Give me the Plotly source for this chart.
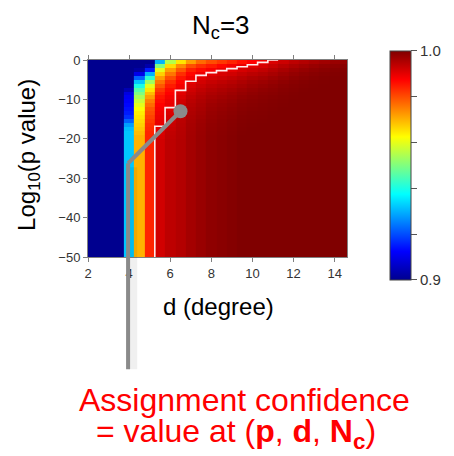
import numpy as np
import plotly.graph_objects as go

# ---------------- data ----------------
d_values = [2.0, 2.5, 3.0, 3.5, 4.0, 4.5, 5.0, 5.5, 6.0, 6.5, 7.0, 7.5, 8.0,
            8.5, 9.0, 9.5, 10.0, 10.5, 11.0, 11.5, 12.0, 12.5, 13.0, 13.5, 14.0, 14.5]
# row boundaries of log10(p)
p_edges = [0, -1, -2, -3, -4, -5, -6, -7, -8, -9, -10, -11, -12, -13, -14, -15,
           -16, -17, -18, -19, -20, -50]

# assignment confidence, one list per d column (rows top -> bottom)
conf_d2_0 = [0.9] * 21
conf_d2_5 = [0.9] * 21
conf_d3_0 = [0.9] * 21
conf_d3_5 = [0.9] * 21
conf_d4_0 = [0.9, 0.9, 0.9, 0.9, 0.9, 0.9, 0.9, 0.904, 0.909, 0.911, 0.912, 0.913, 0.914,
             0.915, 0.917, 0.922, 0.928, 0.931, 0.932, 0.932, 0.932]
conf_d4_5 = [0.9, 0.9, 0.902, 0.91, 0.922, 0.932, 0.94, 0.946, 0.95, 0.954, 0.957, 0.96,
             0.962, 0.964, 0.965, 0.966, 0.967, 0.968, 0.969, 0.97, 0.97]
conf_d5_0 = [0.9, 0.903, 0.915, 0.93, 0.942, 0.953, 0.96, 0.965, 0.969, 0.972, 0.975, 0.977,
             0.979, 0.98, 0.981, 0.982, 0.983, 0.9835, 0.984, 0.984, 0.984]
conf_d5_5 = [0.93, 0.95, 0.96, 0.967, 0.972, 0.976, 0.979, 0.982, 0.984, 0.9855, 0.9865,
             0.9875, 0.9882, 0.9888, 0.9893, 0.9897, 0.9899, 0.9903, 0.991, 0.9915, 0.992]
conf_d6_0 = [0.955, 0.966, 0.972, 0.976, 0.98, 0.983, 0.985, 0.9865, 0.9875, 0.9885, 0.9892,
             0.9897, 0.9902, 0.991, 0.9917, 0.9923, 0.9928, 0.9932, 0.9936, 0.9938, 0.994]
conf_d6_5 = [0.965, 0.974, 0.979, 0.983, 0.9855, 0.9872, 0.9885, 0.9895, 0.9903, 0.9912,
             0.992, 0.9927, 0.9932, 0.9937, 0.994, 0.9943, 0.9945, 0.9947, 0.9948, 0.9949, 0.995]
conf_d7_0 = [0.972, 0.98, 0.9845, 0.987, 0.9885, 0.99, 0.9912, 0.9922, 0.993, 0.9937, 0.9943,
             0.9948, 0.9952, 0.9955, 0.9958, 0.996, 0.9962, 0.9963, 0.9964, 0.9965, 0.9965]
conf_d7_5 = [0.977, 0.983, 0.9865, 0.989, 0.9905, 0.9918, 0.9928, 0.9937, 0.9944, 0.995,
             0.9955, 0.9959, 0.9962, 0.9965, 0.9968, 0.997, 0.9972, 0.9973, 0.9974, 0.9975, 0.9975]
conf_d8_0 = [0.98, 0.985, 0.9882, 0.9903, 0.9918, 0.993, 0.994, 0.9948, 0.9955, 0.9961,
             0.9966, 0.997, 0.9973, 0.9976, 0.9978, 0.998, 0.9982, 0.9983, 0.9984, 0.9985, 0.9985]
conf_d8_5 = [0.982, 0.987, 0.9897, 0.9912, 0.9926, 0.9938, 0.9948, 0.9956, 0.9962, 0.9968,
             0.9972, 0.9976, 0.9979, 0.9982, 0.9984, 0.9986, 0.9987, 0.9988, 0.9989, 0.999, 0.999]
conf_d9_0 = [0.984, 0.9885, 0.9903, 0.992, 0.9935, 0.9946, 0.9955, 0.9963, 0.9969, 0.9974,
             0.9978, 0.9982, 0.9985, 0.9987, 0.9989, 0.9991, 0.9992, 0.9993, 0.9994, 0.9995, 0.9995]
conf_d9_5 = [0.986, 0.9895, 0.9915, 0.9932, 0.9945, 0.9956, 0.9964, 0.9971, 0.9977, 0.9982,
             0.9986, 0.9989, 0.9991, 0.9993, 0.9995, 0.9996, 0.9997, 0.9998, 0.9999, 1.0, 1.0]
conf_d10_0 = [0.9875, 0.9905, 0.9925, 0.9942, 0.9955, 0.9965, 0.9972, 0.9978, 0.9983, 0.9987,
              0.999, 0.9992, 0.9994, 0.9996, 0.9997, 0.9998, 0.9999, 1.0, 1.0, 1.0, 1.0]
conf_d10_5 = [0.989, 0.9915, 0.9935, 0.995, 0.9962, 0.9971, 0.9978, 0.9984, 0.9988, 0.9991,
              0.9993, 0.9995, 0.9996, 0.9997, 0.9998, 0.9999, 1.0, 1.0, 1.0, 1.0, 1.0]
conf_d11_0 = [0.991, 0.993, 0.9948, 0.996, 0.997, 0.9978, 0.9984, 0.9988, 0.9991, 0.9994,
              0.9996, 0.9997, 0.9998, 0.9999, 1.0, 1.0, 1.0, 1.0, 1.0, 1.0, 1.0]
conf_d11_5 = [0.9925, 0.9945, 0.996, 0.997, 0.9978, 0.9985, 0.999, 0.9993, 0.9995, 0.9997,
              0.9998, 0.9999] + [1.0] * 9
conf_d12_0 = [0.994, 0.9957, 0.997, 0.9979, 0.9986, 0.9991, 0.9994, 0.9996, 0.9998, 0.9999] + [1.0] * 11
conf_d12_5 = [0.995, 0.9967, 0.9978, 0.9986, 0.9991, 0.9995, 0.9997, 0.9999] + [1.0] * 13
conf_d13_0 = [0.996, 0.9975, 0.9985, 0.9991, 0.9995, 0.9998, 0.9999] + [1.0] * 14
conf_d13_5 = [0.9968, 0.9982, 0.999, 0.9995, 0.9998, 0.9999] + [1.0] * 15
conf_d14_0 = [0.9975, 0.9987, 0.9994, 0.9997, 0.9999] + [1.0] * 16
conf_d14_5 = [0.998, 0.9991, 0.9996, 0.9998, 0.9999] + [1.0] * 16

# white boundary (high-confidence region): column left edges and p level
boundary_d_edges = [5.25, 5.75, 6.25, 6.75, 7.25, 7.75, 8.25, 8.75, 9.25, 9.75, 10.25, 10.75, 11.25]
boundary_p = [-50, -16.8, -12.1, -7.7, -5.4, -3.9, -3.2, -2.7, -2.2, -1.7, -1.2, -0.6, 0]

# highlighted example point (d, log10 p) and pointer elbow
highlight_d, highlight_p = 6.5, -13.0
elbow_d, elbow_p = 3.95, -26.2

x_range = [2, 14.6]
y_range = [-50, 0]
x_ticks = [2, 4, 6, 8, 10, 12, 14]
y_ticks = [0, -10, -20, -30, -40, -50]
cbar_ticks = [0.9, 0.92, 0.94, 0.96, 0.98, 1.0]
cbar_text = ["0.9", "", "", "", "", "1.0"]

columns = [conf_d2_0, conf_d2_5, conf_d3_0, conf_d3_5, conf_d4_0, conf_d4_5, conf_d5_0,
           conf_d5_5, conf_d6_0, conf_d6_5, conf_d7_0, conf_d7_5, conf_d8_0, conf_d8_5,
           conf_d9_0, conf_d9_5, conf_d10_0, conf_d10_5, conf_d11_0, conf_d11_5, conf_d12_0,
           conf_d12_5, conf_d13_0, conf_d13_5, conf_d14_0, conf_d14_5]
z = np.array(columns).T

jet = [[0.0, "#00008f"], [0.125, "#0000ff"], [0.375, "#00ffff"],
       [0.625, "#ffff00"], [0.875, "#ff0000"], [1.0, "#800000"]]

FONT = "Liberation Sans, Arial, sans-serif"

fig = go.Figure()
fig.add_trace(go.Heatmap(
    x=d_values, y=p_edges, z=z, zmin=0.9, zmax=1.0, colorscale=jet,
    colorbar=dict(
        tickvals=cbar_ticks, ticktext=cbar_text, ticks="outside", ticklen=6,
        tickcolor="#555555", tickfont=dict(size=15, color="#333333", family=FONT),
        x=1.166, xanchor="left", xpad=0, y=0.4645, yanchor="middle", ypad=0,
        len=229, lenmode="pixels", thickness=21, thicknessmode="pixels",
        outlinewidth=1, outlinecolor="#444444",
    ),
    hoverinfo="skip",
))
fig.add_trace(go.Scatter(
    x=boundary_d_edges, y=boundary_p, mode="lines", line_shape="vh",
    line=dict(color="rgba(255,236,236,1)", width=1.6), hoverinfo="skip", showlegend=False,
))


def xp(d):
    return (d - x_range[0]) / (x_range[1] - x_range[0])


def yp(p):
    return (p - y_range[0]) / (y_range[1] - y_range[0])


gray = "#8a8a8a"
shapes = [
    dict(type="line", xref="paper", yref="paper", x0=xp(elbow_d) + 0.018, x1=xp(elbow_d) + 0.018,
         y0=yp(elbow_p) - 0.02, y1=-0.57, line=dict(color="rgba(0,0,0,0.06)", width=9), layer="above"),
    dict(type="line", xref="paper", yref="paper", x0=xp(highlight_d), y0=yp(highlight_p),
         x1=xp(elbow_d), y1=yp(elbow_p), line=dict(color=gray, width=4), layer="above"),
    dict(type="line", xref="paper", yref="paper", x0=xp(elbow_d), y0=yp(elbow_p),
         x1=xp(elbow_d), y1=-0.57, line=dict(color=gray, width=4), layer="above"),
    dict(type="circle", xref="paper", yref="paper", xsizemode="pixel", ysizemode="pixel",
         xanchor=xp(highlight_d), yanchor=yp(highlight_p), x0=-7, x1=7, y0=-7, y1=7,
         fillcolor=gray, line=dict(width=0), layer="above"),
]

annotations = [
    dict(text="N<sub>c</sub>=3", x=0.514, y=1.168, font=dict(size=26, color="black", family=FONT)),
    dict(text="Log<sub>10</sub>(p value)", x=-0.228, y=0.518, textangle=-90,
         font=dict(size=24, color="black", family=FONT)),
    dict(text="d (degree)", x=0.502, y=-0.249, font=dict(size=24, color="black", family=FONT)),
    dict(text="Assignment confidence", x=0.606, y=-0.726,
         font=dict(size=32, color="#ff0000", family=FONT)),
    dict(text="= value at (<b>p</b>, <b>d</b>, <b>N<sub>c</sub></b>)", x=0.571, y=-0.898,
         font=dict(size=32, color="#ff0000", family=FONT)),
]
for a in annotations:
    a.update(xref="paper", yref="paper", showarrow=False, xanchor="center", yanchor="middle")

axis_common = dict(showgrid=False, zeroline=False, showline=True, linecolor="#808080",
                   linewidth=1, ticks="outside", ticklen=4, tickcolor="#808080",
                   tickfont=dict(size=13, color="#333333", family=FONT))

fig.update_layout(
    width=454, height=456, margin=dict(l=88, r=107, t=60, b=199),
    paper_bgcolor="white", plot_bgcolor="white", showlegend=False,
    xaxis=dict(range=x_range, tickvals=x_ticks, mirror="ticks", **axis_common),
    yaxis=dict(range=y_range, tickvals=y_ticks, mirror=True, **axis_common),
    shapes=shapes, annotations=annotations,
    font=dict(family=FONT),
)

fig.write_html("out.html")
